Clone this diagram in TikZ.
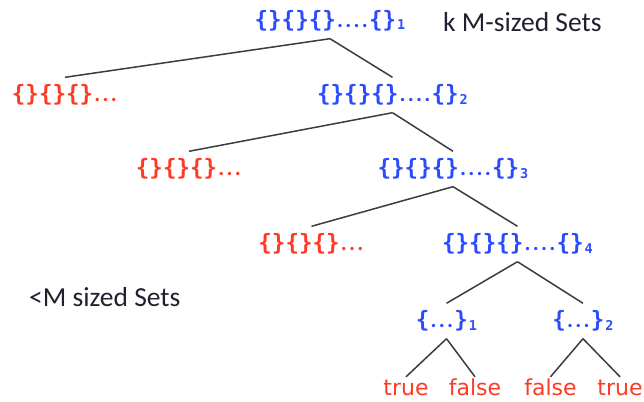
\documentclass[tikz,border=0pt]{standalone}
\usepackage{fontspec}
\newfontfamily\setfont{DejaVu Sans Mono}
\newfontfamily\valfont{DejaVu Sans}
\newfontfamily\labelfont{Carlito}
\definecolor{setblue}{HTML}{2B4BFF}
\definecolor{setred}{HTML}{FF3A24}
\definecolor{ink}{HTML}{202030}
\definecolor{edge}{HTML}{3C3C3C}
% one narrow dot and a small lowered index
\newcommand\dd{\makebox[8.3pt]{\labelfont.}}
\newcommand\idx[1]{\kern1pt{\fontsize{13.5}{14}\selectfont\raisebox{-2.5pt}{#1}}}

\begin{document}
\begin{tikzpicture}[x=1pt,y=-1pt,
  tnode/.style={font=\setfont\bfseries\fontsize{22.5}{24}\selectfont,inner xsep=0pt,
    inner ysep=7pt,text height=17pt,text depth=4pt},
  full/.style={tnode,text=setblue},
  rest/.style={tnode,text=setred},
  val/.style={font=\valfont\fontsize{22}{24}\selectfont,text=setred,anchor=base,
    inner xsep=0pt,inner ysep=1pt,text height=17pt,text depth=0pt},
  note/.style={font=\labelfont\fontsize{27.5}{29}\selectfont,text=ink,inner sep=0pt,
    anchor=base west},
  branch/.style={draw=edge,line width=1.5pt}]
\useasboundingbox (0,0) rectangle (644,401);
% chain of M-sized sets
\node[full] (n1) at (330,21) {\{\}\{\}\{\}\dd\dd\dd\dd\{\}\idx{1}};
\node[rest] (r1) at (65,95) {\{\}\{\}\{\}\dd\dd\dd};
\node[full] (n2) at (392.5,95) {\{\}\{\}\{\}\dd\dd\dd\dd\{\}\idx{2}};
\node[rest] (r2) at (189,169) {\{\}\{\}\{\}\dd\dd\dd};
\node[full] (n3) at (453,169) {\{\}\{\}\{\}\dd\dd\dd\dd\{\}\idx{3}};
\node[rest] (r3) at (311.5,244) {\{\}\{\}\{\}\dd\dd\dd};
\node[full] (n4) at (517.5,244) {\{\}\{\}\{\}\dd\dd\dd\dd\{\}\idx{4}};
% smaller sets and their values
\node[full] (s1) at (446.5,321) {\{\dd\dd\dd\}\idx{1}};
\node[full] (s2) at (583,321) {\{\dd\dd\dd\}\idx{2}};
\node[val] (v1) at (406,395) {true};
\node[val] (v2) at (475,395) {false};
\node[val] (v3) at (550.5,395) {false};
\node[val] (v4) at (620,395) {true};
% labels
\node[note] (kset) at (443,31.5) {k M-sized Sets};
\node[note] (lset) at (29,306.5) {<M sized Sets};
% branches
\foreach \p/\c in {n1/r1,n1/n2,n2/r2,n2/n3,n3/r3,n3/n4,n4/s1,n4/s2,
  s1/v1,s1/v2,s2/v3,s2/v4}
  \draw[branch] (\p.south) -- (\c.north);
\end{tikzpicture}
\end{document}
